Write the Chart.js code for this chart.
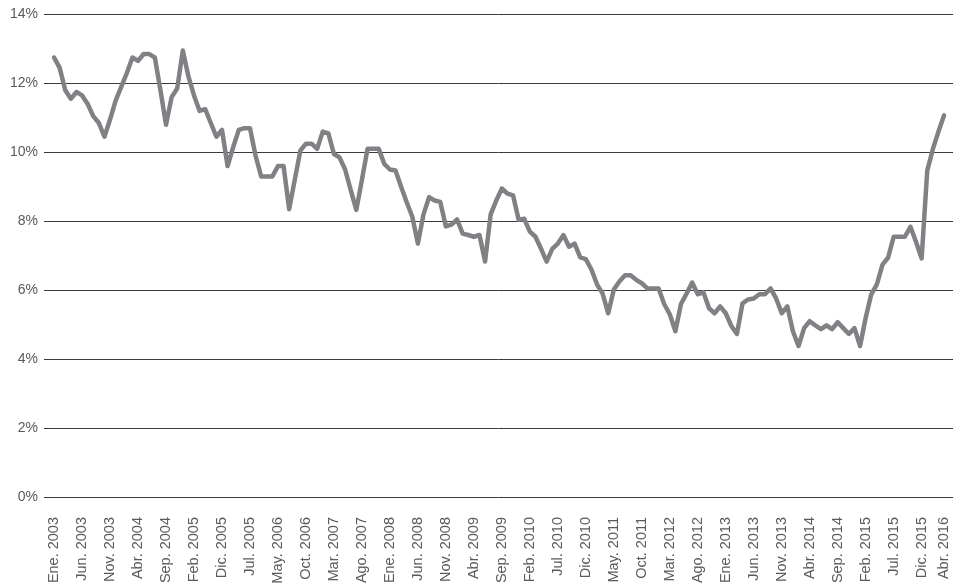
<!DOCTYPE html>
<html>
<head>
<meta charset="utf-8">
<script src="https://cdn.jsdelivr.net/npm/chart.js@4"></script>
<style>
  html, body { margin: 0; padding: 0; background: #fff; }
  #wrap { width: 953px; height: 583px; }
</style>
</head>
<body>
<div id="wrap"><canvas id="rateChart"></canvas></div>
<script>
const tickLabels = [
  'Ene. 2003', 'Jun. 2003', 'Nov. 2003', 'Abr. 2004', 'Sep. 2004', 'Feb. 2005',
  'Dic. 2005', 'Jul. 2005', 'May. 2006', 'Oct. 2006', 'Mar. 2007', 'Ago. 2007',
  'Ene. 2008', 'Jun. 2008', 'Nov. 2008', 'Abr. 2009', 'Sep. 2009', 'Feb. 2010',
  'Jul. 2010', 'Dic. 2010', 'May. 2011', 'Oct. 2011', 'Mar. 2012', 'Ago. 2012',
  'Ene. 2013', 'Jun. 2013', 'Nov. 2013', 'Abr. 2014', 'Sep. 2014', 'Feb. 2015',
  'Jul. 2015', 'Dic. 2015', 'Abr. 2016'
]
// month index of each tick label (every 5 months, last one is Abr. 2016)
const tickIndex = [0, 5, 10, 15, 20, 25, 30, 35, 40, 45, 50, 55, 60, 65, 70, 75,
  80, 85, 90, 95, 100, 105, 110, 115, 120, 125, 130, 135, 140, 145, 150, 155, 159]

// monthly values, Ene. 2003 .. Abr. 2016 (%)
const rate = [
  12.75, 12.45, 11.8, 11.55, 11.75, 11.65, 11.4, 11.05, 10.85, 10.45,
  10.95, 11.5, 11.9, 12.3, 12.75, 12.65, 12.85, 12.85, 12.75, 11.8,
  10.8, 11.6, 11.85, 12.95, 12.2, 11.65, 11.2, 11.25, 10.85, 10.45,
  10.65, 9.6, 10.15, 10.65, 10.7, 10.7, 9.9, 9.3, 9.3, 9.3,
  9.6, 9.6, 8.35, 9.2, 10.05, 10.25, 10.25, 10.1, 10.6, 10.55,
  9.95, 9.85, 9.5, 8.9, 8.33, 9.2, 10.1, 10.1, 10.1, 9.66,
  9.5, 9.47, 9.0, 8.55, 8.13, 7.35, 8.2, 8.7, 8.6, 8.56,
  7.85, 7.9, 8.05, 7.64, 7.6, 7.55, 7.6, 6.83, 8.2, 8.6,
  8.95, 8.8, 8.75, 8.04, 8.07, 7.7, 7.55, 7.2, 6.83, 7.2,
  7.35, 7.6, 7.26, 7.35, 6.95, 6.9, 6.6, 6.17, 5.9, 5.33,
  6.02, 6.25, 6.43, 6.43, 6.3, 6.2, 6.05, 6.05, 6.05, 5.6,
  5.3, 4.81, 5.6, 5.9, 6.22, 5.88, 5.94, 5.48, 5.33, 5.53,
  5.33, 4.96, 4.73, 5.62, 5.73, 5.76, 5.88, 5.88, 6.05, 5.76,
  5.33, 5.53, 4.81, 4.38, 4.9, 5.1, 4.98, 4.87, 4.98, 4.87,
  5.07, 4.9, 4.73, 4.9, 4.38, 5.2, 5.88, 6.17, 6.74, 6.94,
  7.55, 7.55, 7.55, 7.84, 7.4, 6.92, 9.47, 10.09, 10.6, 11.07
]

const yTicks = [0, 2, 4, 6, 8, 10, 12, 14]
const lineColor = 'rgb(128, 129, 132)'
const textColor = '#5a5a5a'

const chart = new Chart(document.getElementById('rateChart'), {
  type: 'line',
  data: {
    datasets: [{
      data: rate.map((v, i) => ({ x: i, y: v })),
      borderColor: lineColor,
      borderWidth: 4.5,
      pointRadius: 0,
      tension: 0,
      borderJoinStyle: 'round',
      borderCapStyle: 'round',
    }]
  },
  options: {
    responsive: true,
    maintainAspectRatio: false,
    animation: false,
    layout: { padding: { top: 5, right: 0, left: 0, bottom: 0 } },
    plugins: { legend: { display: false }, tooltip: { enabled: false } },
    scales: {
      x: {
        type: 'linear',
        min: -1.8,
        max: 160.6,
        grid: { display: false },
        border: { display: false },
        afterBuildTicks: axis => { axis.ticks = tickIndex.map(v => ({ value: v })) },
        afterFit: axis => { axis.height = 86; axis.paddingRight = 0 },
        ticks: {
          autoSkip: false,
          maxRotation: 90,
          minRotation: 90,
          padding: 12,
          color: textColor,
          font: { family: 'Liberation Sans', size: 14.5 },
          callback: v => tickLabels[tickIndex.indexOf(v)],
        },
      },
      y: {
        min: 0,
        max: 14,
        afterBuildTicks: axis => { axis.ticks = yTicks.map(v => ({ value: v })) },
        afterFit: axis => { axis.width = 44 },
        grid: { color: '#3a3a3a', lineWidth: 1, drawTicks: false },
        border: { display: false },
        ticks: {
          padding: 6,
          color: textColor,
          font: { family: 'Liberation Sans', size: 14 },
          callback: v => v + '%',
        },
      },
    },
  },
})
</script>
</body>
</html>
